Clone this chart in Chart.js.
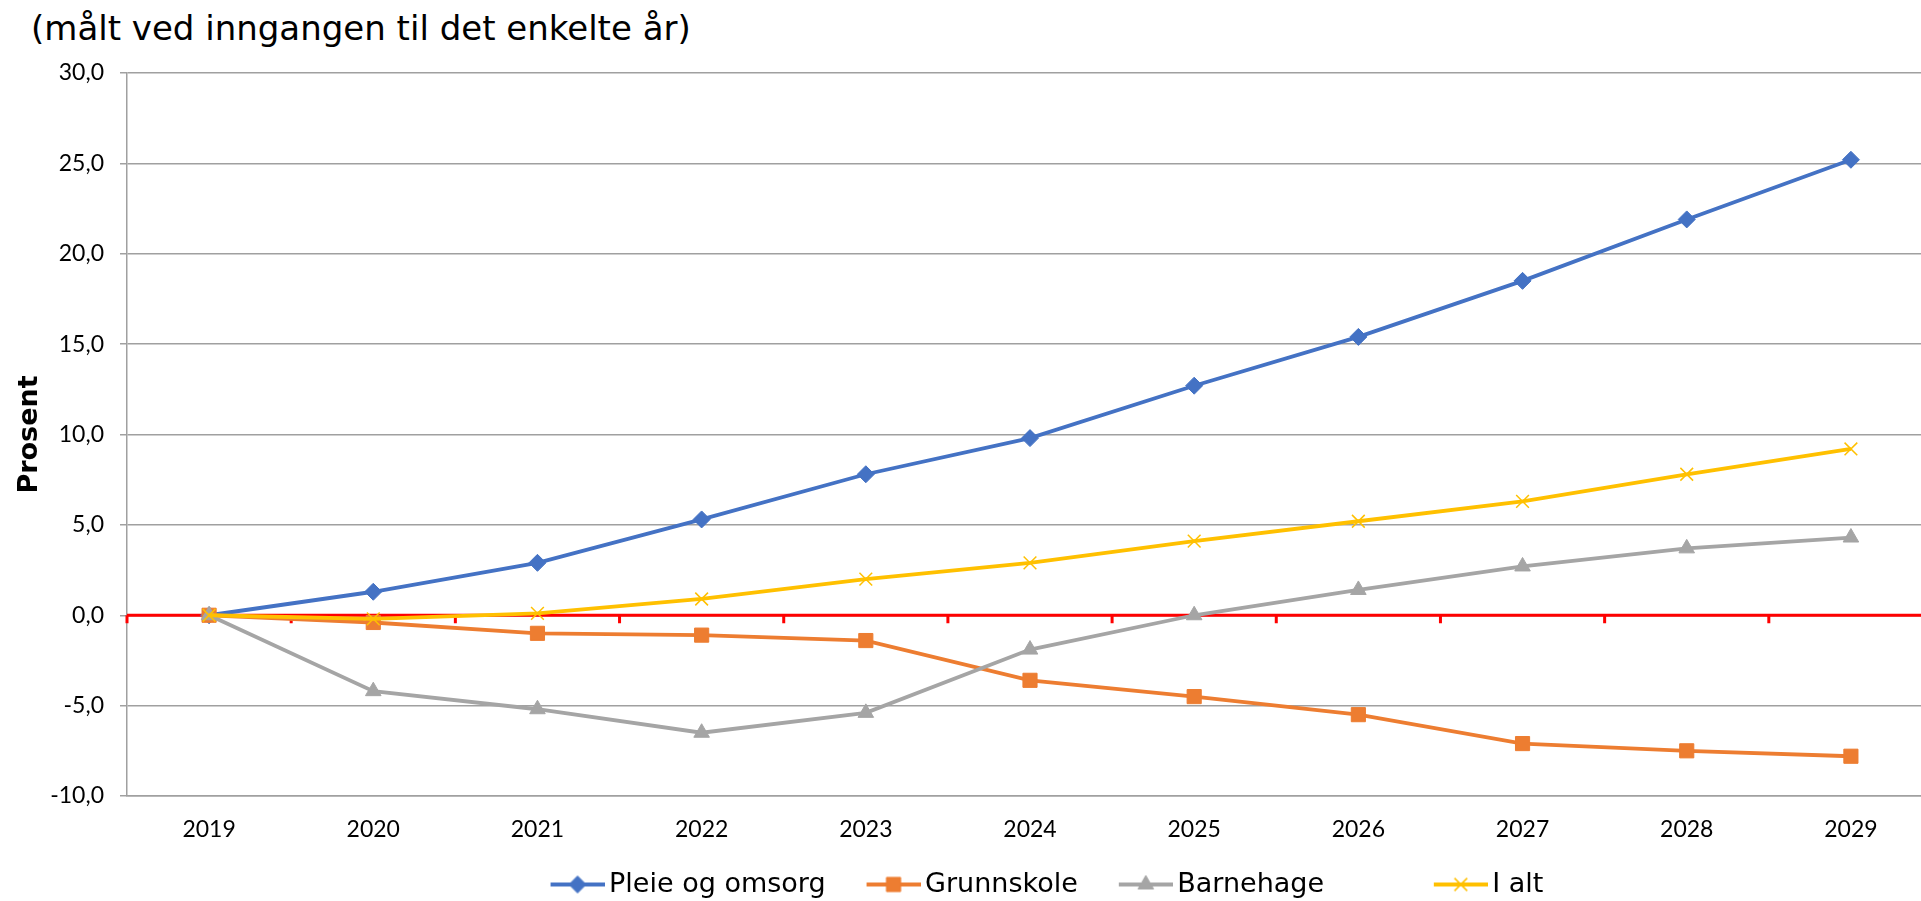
<!DOCTYPE html>
<html>
<head>
<meta charset="utf-8">
<script src="https://cdn.jsdelivr.net/npm/chart.js@4"></script>
<style>
  html, body { margin: 0; padding: 0; background: #fff; }
  #wrap { position: relative; width: 1921px; height: 901px; overflow: hidden; }
  #tittel {
    position: absolute; left: 31px; top: 8px;
    font-family: "DejaVu Sans", sans-serif; font-size: 34px; line-height: 40px;
    color: #000; white-space: nowrap;
  }
  canvas { position: absolute; left: 0; top: 0; }
</style>
</head>
<body>
<div id="wrap">
  <div id="tittel">(målt ved inngangen til det enkelte år)</div>
  <canvas id="graf" width="1944" height="908"></canvas>
</div>
<script>
// Data lest av figuren (prosent endring fra 2019)
const aar = ['2019', '2020', '2021', '2022', '2023', '2024', '2025', '2026', '2027', '2028', '2029'];
const pleieOgOmsorg = [0.0, 1.3, 2.9, 5.3, 7.8, 9.8, 12.7, 15.4, 18.5, 21.9, 25.2];
const grunnskole = [0.0, -0.4, -1.0, -1.1, -1.4, -3.6, -4.5, -5.5, -7.1, -7.5, -7.8];
const barnehage = [0.0, -4.2, -5.2, -6.5, -5.4, -1.9, 0.0, 1.4, 2.7, 3.7, 4.3];
const iAlt = [0.0, -0.2, 0.1, 0.9, 2.0, 2.9, 4.1, 5.2, 6.3, 7.8, 9.2];
const serieNavn = ['Pleie og omsorg', 'Grunnskole', 'Barnehage', 'I alt'];

const farger = ['#4472C4', '#ED7D31', '#A5A5A5', '#FFC000'];
const markorer = ['rectRot', 'rect', 'triangle', 'crossRot'];
const radier = [8.5, 10, 9, 9];

// Lager et lite bilde med linje + markør til forklaringen (som i Excel).
// Venstre del er gjennomsiktig, slik at avstanden mellom elementene blir riktig.
const IKON_B = 97;
function lagIkon(farge, stil, radius) {
    const c = document.createElement('canvas');
    c.width = IKON_B;
    c.height = 22;
    const ctx = c.getContext('2d');
    ctx.strokeStyle = farge;
    ctx.lineWidth = 4;
    ctx.beginPath();
    ctx.moveTo(IKON_B - 54, 11);
    ctx.lineTo(IKON_B, 11);
    ctx.stroke();
    ctx.fillStyle = farge;
    ctx.lineWidth = stil === 'crossRot' ? 1.5 : 1;
    Chart.helpers.drawPoint(ctx, {pointStyle: stil, radius: radius, rotation: 0, borderWidth: ctx.lineWidth}, IKON_B - 27, 11);
    return c;
}

// Rød nullinje med små streker mellom kategoriene
const nullLinje = {
    id: 'nullLinje',
    beforeDatasetsDraw(chart) {
        const {ctx, chartArea, scales} = chart;
        const y0 = scales.y.getPixelForValue(0);
        ctx.save();
        ctx.strokeStyle = '#FF0000';
        ctx.lineWidth = 3;
        ctx.beginPath();
        ctx.moveTo(chartArea.left, y0);
        ctx.lineTo(chartArea.right, y0);
        ctx.stroke();
        ctx.beginPath();
        for (let i = 0; i <= aar.length; i++) {
            let x;
            if (i === 0) x = chartArea.left;
            else if (i === aar.length) x = chartArea.right;
            else x = (scales.x.getPixelForValue(i - 1) + scales.x.getPixelForValue(i)) / 2;
            ctx.moveTo(x, y0);
            ctx.lineTo(x, y0 + 8);
        }
        ctx.stroke();
        ctx.restore();
    }
};

const serier = [pleieOgOmsorg, grunnskole, barnehage, iAlt];
const datasett = serier.map((verdier, i) => ({
    label: serieNavn[i],
    data: verdier,
    borderColor: farger[i],
    backgroundColor: farger[i],
    borderWidth: 3.8,
    pointStyle: markorer[i],
    pointRadius: radier[i],
    pointHoverRadius: radier[i],
    pointBorderColor: farger[i],
    pointBackgroundColor: farger[i],
    pointBorderWidth: markorer[i] === 'crossRot' ? 1.5 : 1,
    tension: 0,
    order: serier.length - i
}));

const ikoner = farger.map((f, i) => lagIkon(f, markorer[i], radier[i]));

new Chart(document.getElementById('graf'), {
    type: 'line',
    data: {
        labels: aar,
        datasets: datasett
    },
    options: {
        responsive: false,
        animation: false,
        layout: {
            padding: {top: 73, left: 14, right: 0, bottom: 0}
        },
        plugins: {
            title: {display: false},
            tooltip: {enabled: false},
            legend: {
                position: 'bottom',
                fullSize: false,
                labels: {
                    usePointStyle: true,
                    pointStyleWidth: IKON_B - 18,
                    padding: 7,
                    color: '#000',
                    font: {family: 'DejaVu Sans', size: 27},
                    generateLabels(chart) {
                        return chart.data.datasets.map((ds, i) => ({
                            // Excel-forklaringen har ekstra luft foran «I alt»
                            text: i === 2 ? ds.label + '\u00a0'.repeat(8) : ds.label,
                            pointStyle: ikoner[i],
                            fillStyle: ds.borderColor,
                            strokeStyle: ds.borderColor,
                            lineWidth: 0,
                            hidden: false,
                            datasetIndex: i
                        }));
                    }
                }
            }
        },
        scales: {
            x: {
                offset: true,
                grid: {display: false, drawTicks: false},
                border: {display: true, color: '#a0a0a0', width: 1.5},
                ticks: {
                    color: '#000',
                    padding: 20,
                    maxRotation: 0,
                    font: {family: 'Lato', size: 23}
                },
                afterFit(scale) {
                    scale.height = 68;
                    scale.paddingLeft = 0;
                    scale.paddingRight = 0;
                }
            },
            y: {
                min: -10,
                max: 30,
                ticks: {
                    stepSize: 5,
                    color: '#000',
                    padding: 16,
                    font: {family: 'Lato', size: 23},
                    callback: v => v.toFixed(1).replace('.', ',')
                },
                grid: {
                    color: '#a0a0a0',
                    lineWidth: 1.5,
                    tickLength: 7
                },
                border: {display: true, color: '#a0a0a0', width: 1.5},
                title: {
                    display: true,
                    text: 'Prosent',
                    color: '#000',
                    padding: {top: 0, bottom: 0},
                    font: {family: 'DejaVu Sans', size: 27, weight: 'bold'}
                },
                afterFit(scale) {
                    scale.width = 113;
                }
            }
        }
    },
    plugins: [nullLinje]
});
</script>
</body>
</html>
